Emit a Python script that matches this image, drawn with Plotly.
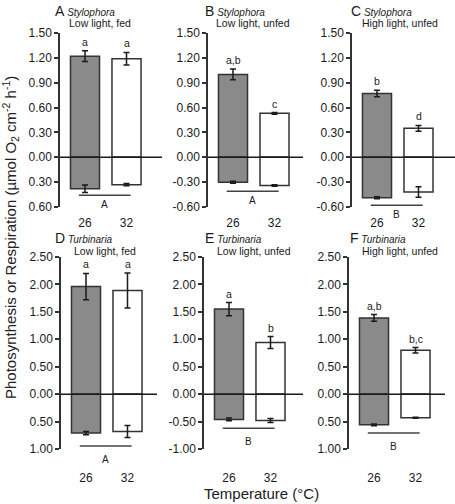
import plotly.graph_objects as go

# ---------------- data ----------------
temperatures = ["26", "32"]
panel_letters = ["A", "B", "C", "D", "E", "F"]
species = ["Stylophora", "Stylophora", "Stylophora", "Turbinaria", "Turbinaria", "Turbinaria"]
conditions = ["Low light, fed", "Low light, unfed", "High light, unfed",
              "Low light, fed", "Low light, unfed", "High light, unfed"]

photosynthesis = [[1.22, 1.19], [1.00, 0.53], [0.77, 0.35],
                  [1.96, 1.89], [1.55, 0.94], [1.39, 0.80]]
photosynthesis_err = [[0.065, 0.075], [0.065, 0.01], [0.04, 0.035],
                      [0.24, 0.32], [0.12, 0.11], [0.06, 0.05]]
respiration = [[-0.38, -0.33], [-0.30, -0.34], [-0.487, -0.42],
               [-0.71, -0.68], [-0.46, -0.48], [-0.56, -0.43]]
respiration_err = [[0.045, 0.015], [0.012, 0.01], [0.012, 0.063],
                   [0.03, 0.11], [0.025, 0.035], [0.015, 0.01]]
bar_letters = [["a", "a"], ["a,b", "c"], ["b", "d"],
               ["a", "a"], ["a", "b"], ["a,b", "b,c"]]
group_letters = ["A", "A", "B", "A", "B", "B"]

top_ticks = [-0.6, -0.3, 0.0, 0.3, 0.6, 0.9, 1.2, 1.5]
bottom_ticks = [-1.0, -0.5, 0.0, 0.5, 1.0, 1.5, 2.0, 2.5]
show_minus = [False, True, True, False, True, False]

# ---------------- layout constants ----------------
W, H = 455, 504
FONT = "Liberation Sans"
GRAY = "#8a8a8a"
EDGE = "#333333"
INK = "#1a1a1a"

# axis x (px), right end of panel (px), letter offset, line2 offset, sig line y (data)
panels_px = [
    dict(ax=60, end=162, lo=-7, l2=7, sig=-0.458),
    dict(ax=208, end=303, lo=-5, l2=6, sig=-0.41),
    dict(ax=352, end=455, lo=-3, l2=8, sig=-0.58),
    dict(ax=61, end=157, lo=-8, l2=11, sig=-0.947),
    dict(ax=204, end=303, lo=-1, l2=11, sig=-0.62),
    dict(ax=349, end=445, lo=-1, l2=11, sig=-0.71),
]
rows_px = [dict(top=33, bot=207, t1=11, t2=23, xstand=7, gshift=-2),
           dict(top=257, bot=449, t1=238, t2=251, xstand=20, gshift=-6)]
PX_PER_UNIT_X = 41.5
FIRST_OFFSET = 25.0

fig = go.Figure()
layout = dict(
    width=W, height=H, margin=dict(l=0, r=0, t=0, b=0, autoexpand=False),
    paper_bgcolor="white", plot_bgcolor="rgba(0,0,0,0)",
    showlegend=False, barmode="overlay",
    font=dict(family=FONT, color=INK, size=12),
)
shapes = []
annotations = []

for i in range(6):
    p = panels_px[i]
    r = rows_px[0 if i < 3 else 1]
    n = "" if i == 0 else str(i + 1)
    xa, ya = "x" + n, "y" + n
    xmin = -FIRST_OFFSET / PX_PER_UNIT_X
    xmax = xmin + (p["end"] - p["ax"]) / PX_PER_UNIT_X

    ticks = top_ticks if i < 3 else bottom_ticks
    ticktext = [("{:.2f}".format(t) if show_minus[i] else "{:.2f}".format(abs(t))) for t in ticks]

    layout["xaxis" + n] = dict(
        domain=[p["ax"] / W, p["end"] / W], range=[xmin, xmax], anchor=ya,
        showline=False, showgrid=False, zeroline=False, ticks="",
        tickvals=[0, 1], ticktext=temperatures, tickfont=dict(size=12, color=INK),
        ticklabelstandoff=r["xstand"], fixedrange=True, automargin=False,
    )
    layout["yaxis" + n] = dict(
        domain=[1 - r["bot"] / H, 1 - r["top"] / H], range=[ticks[0], ticks[-1]],
        anchor=xa, showline=True, linecolor=EDGE, linewidth=1.5,
        ticks="outside", ticklen=4, tickwidth=1.5, tickcolor=EDGE,
        tickvals=ticks, ticktext=ticktext, tickfont=dict(size=12, color=INK),
        showgrid=False, zeroline=False, fixedrange=True, automargin=False,
    )

    colors = [GRAY, "white"]
    for vals, errs in ((photosynthesis[i], photosynthesis_err[i]),
                       (respiration[i], respiration_err[i])):
        fig.add_trace(go.Bar(
            x=[0, 1], y=vals, width=0.7, xaxis=xa, yaxis=ya,
            marker=dict(color=colors, line=dict(color=EDGE, width=1.5)),
            error_y=dict(type="data", array=errs, visible=True,
                         color=INK, thickness=1.5, width=3),
            hoverinfo="skip",
        ))

    # zero line across panel
    shapes.append(dict(type="line", xref=xa + " domain", yref=ya,
                       x0=0, x1=1, y0=0, y1=0, layer="above",
                       line=dict(color=INK, width=1.5)))
    # group significance line
    shapes.append(dict(type="line", xref=xa, yref=ya,
                       x0=-0.15, x1=1.1, y0=p["sig"], y1=p["sig"], layer="above",
                       line=dict(color="#444444", width=1.5)))
    annotations.append(dict(xref=xa, yref=ya, x=0.475, y=p["sig"], text=group_letters[i],
                            showarrow=False, yanchor="top", yshift=r["gshift"],
                            font=dict(size=10, color=INK)))
    # letters above bars
    for j in range(2):
        annotations.append(dict(xref=xa, yref=ya, x=j,
                                y=photosynthesis[i][j] + photosynthesis_err[i][j],
                                text=bar_letters[i][j], showarrow=False,
                                yanchor="bottom", yshift=1,
                                font=dict(size=10.5, color=INK)))
    # panel titles
    annotations.append(dict(xref="paper", yref="paper",
                            x=(p["ax"] + p["lo"]) / W, y=1 - r["t1"] / H,
                            xanchor="left", yanchor="middle", showarrow=False,
                            text="<span style='font-size:14px'>" + panel_letters[i] +
                                 "</span> <i>" + species[i] + "</i>",
                            font=dict(size=10, color=INK)))
    annotations.append(dict(xref="paper", yref="paper",
                            x=(p["ax"] + p["l2"]) / W, y=1 - r["t2"] / H,
                            xanchor="left", yanchor="middle", showarrow=False,
                            text=conditions[i], font=dict(size=10.5, color=INK)))

# axis titles
annotations.append(dict(xref="paper", yref="paper", x=10 / W, y=1 - 238 / H,
                        xanchor="center", yanchor="middle", textangle=-90, showarrow=False,
                        text="Photosynthesis or Respiration (µmol O<sub>2</sub> cm<sup>-2</sup> h<sup>-1</sup>)",
                        font=dict(size=15, color="#222222")))
annotations.append(dict(xref="paper", yref="paper", x=261 / W, y=1 - 493 / H,
                        xanchor="center", yanchor="middle", showarrow=False,
                        text="Temperature (°C)", font=dict(size=15, color="#222222")))

layout["shapes"] = shapes
layout["annotations"] = annotations
fig.update_layout(**layout)
fig.write_html("out.html", config={"displayModeBar": False},
               post_script="document.body.style.margin='0px';")
